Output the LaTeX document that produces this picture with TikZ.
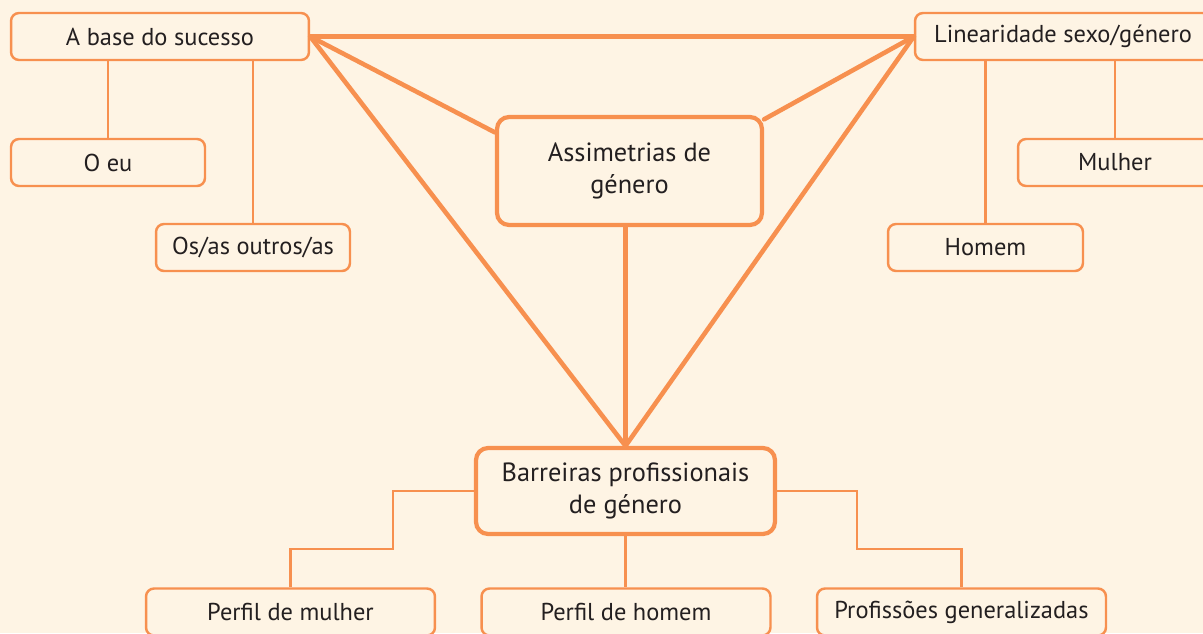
\documentclass[tikz,border=0pt]{standalone}
\usepackage{fontspec}
\setmainfont{PT Sans}
\definecolor{laranja}{HTML}{F7904F}
\definecolor{creme}{HTML}{FEF4E4}
\definecolor{tinta}{HTML}{231F20}
\begin{document}
\begin{tikzpicture}[x=0.02cm, y=-0.02cm,
  box/.style={rectangle, rounded corners=0.16cm, draw=laranja, line width=1.4pt,
    fill=creme, text=tinta, inner sep=0pt, minimum height=0.94cm,
    font=\fontsize{13.9pt}{16pt}\selectfont},
  mainbox/.style={box, line width=2.4pt, rounded corners=0.24cm, align=center,
    font=\fontsize{15pt}{18pt}\selectfont},
  link/.style={draw=laranja, line width=1.4pt},
  spoke/.style={draw=laranja, line width=2.6pt, line cap=round}]
\fill[creme] (0,0) rectangle (1203,633);
\path[use as bounding box, clip] (0,0) rectangle (1203,633);
% ramo esquerdo
\node[box, minimum width=5.96cm] (base) at (160,36.5) {A base do sucesso};
\node[box, minimum width=3.88cm] (eu) at (108,162.5) {O eu};
\node[box, minimum width=3.88cm] (outros) at (253,247.5) {Os/as outros/as};
% ramo direito
\node[box, minimum width=5.92cm] (linear) at (1063,36.5) {Linearidade sexo/género};
\node[box, minimum width=3.88cm] (mulher) at (1115,162.5) {Mulher};
\node[box, minimum width=3.9cm] (homem) at (985.5,247.5) {Homem};
% centro
\node[mainbox, minimum width=5.3cm, minimum height=2.16cm] (assim) at (629.5,171)
  {Assimetrias de\\género};
\node[mainbox, minimum width=5.98cm, minimum height=1.72cm] (barr) at (625.5,491)
  {Barreiras profissionais\\de género};
% ramo de baixo
\node[box, minimum width=5.78cm] (pmulher) at (290.5,612) {Perfil de mulher};
\node[box, minimum width=5.78cm] (phomem) at (626,612) {Perfil de homem};
\node[box, minimum width=5.78cm] (profs) at (961.5,612) {Profissões generalizadas};
% triangulo
\draw[spoke] (base.east) -- (linear.west);
\draw[spoke] (base.east) -- (assim.164);
\draw[spoke] (linear.west) -- (assim.21);
\draw[spoke] (base.east) -- (barr.north);
\draw[spoke] (linear.west) -- (barr.north);
\draw[spoke] (barr.north |- assim.south) -- (barr.north);
% ligacoes finas
\draw[link] (eu.north |- base.south) -- (eu.north);
\draw[link] (outros.north |- base.south) -- (outros.north);
\draw[link] (homem.north |- linear.south) -- (homem.north);
\draw[link] (mulher.north |- linear.south) -- (mulher.north);
\draw[link] (barr.west) -| (393,549) -| (pmulher.north);
\draw[link] (barr.east) -| (857,549) -| (profs.north);
\draw[link] (barr.south) -- (barr.south |- phomem.north);
\end{tikzpicture}
\end{document}
